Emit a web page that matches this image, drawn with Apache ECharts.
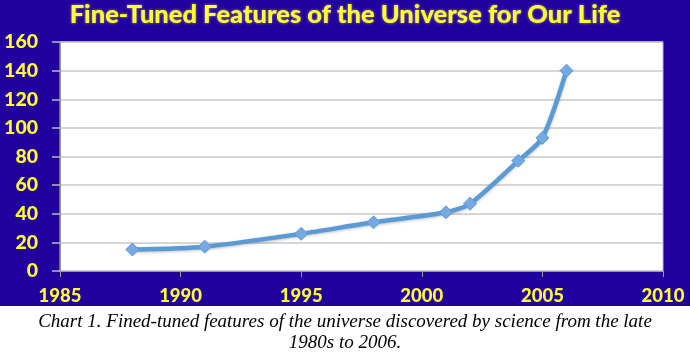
<!DOCTYPE html>
<html>
<head>
<meta charset="utf-8">
<script src="https://cdn.jsdelivr.net/npm/echarts@6/dist/echarts.min.js"></script>
<style>
html,body{margin:0;padding:0;background:#fff;}
#c{width:690px;height:354px;}
</style>
</head>
<body>
<div id="c"></div>
<script>
const titleText = "Fine-Tuned Features of the Universe for Our Life";
const captionLines = ["Chart 1. Fined-tuned features of the universe discovered by science from the late", "1980s to 2006."];
const years = [1988, 1991, 1995, 1998, 2001, 2002, 2004, 2005, 2006];
const features = [15, 17, 26, 34, 41, 47, 77, 93, 140];
const xTicks = [1985, 1990, 1995, 2000, 2005, 2010];
const yTicks = [0, 20, 40, 60, 80, 100, 120, 140, 160];

const navy = "#22009E";
const yellow = "#FFFF33";
const chart = echarts.init(document.getElementById('c'));
chart.setOption({
  backgroundColor: '#ffffff',
  animation: false,
  graphic: [
    { type: 'rect', z: -10, shape: { x: 0, y: 0, width: 690, height: 306 }, style: { fill: navy } },
    { type: 'text', left: 'center', top: 311, style: { text: captionLines.join('\n'), fill: '#000', font: 'italic 19px "Liberation Serif"', textAlign: 'center', lineHeight: 21 } }
  ],
  title: {
    text: titleText, left: 'center', top: -3,
    textStyle: { color: yellow, fontFamily: 'Lato', fontWeight: 900, fontSize: 25.5, textShadowColor: 'rgba(255,255,120,0.6)', textShadowBlur: 3 }
  },
  grid: { left: 60, right: 27, top: 42, bottom: 83, show: true, backgroundColor: '#ffffff', borderColor: '#bbbbbb', borderWidth: 1 },
  xAxis: {
    type: 'value', min: xTicks[0], max: xTicks[xTicks.length - 1], interval: 5,
    axisLine: { show: true, lineStyle: { color: '#999', width: 1 } },
    axisTick: { show: true, length: 6, lineStyle: { color: '#999' } },
    splitLine: { show: false },
    axisLabel: { color: yellow, fontFamily: 'Lato', fontWeight: 900, fontSize: 18.5, margin: 16, formatter: v => String(v) }
  },
  yAxis: {
    type: 'value', min: yTicks[0], max: yTicks[yTicks.length - 1], interval: 20,
    axisLine: { show: true, lineStyle: { color: '#999', width: 1 } },
    axisTick: { show: true, length: 8, lineStyle: { color: '#bbb', width: 1.5 } },
    splitLine: { show: true, lineStyle: { color: '#c8c8c8', width: 1.5 } },
    axisLabel: { color: yellow, fontFamily: 'Lato', fontWeight: 900, fontSize: 19.5, margin: 22 }
  },
  series: [{
    type: 'line',
    data: years.map((y, i) => [y, features[i]]),
    smooth: 0.25,
    symbol: 'diamond', symbolSize: 13,
    lineStyle: { color: '#5B9BD5', width: 4.5, shadowColor: 'rgba(0,0,0,0.25)', shadowBlur: 3, shadowOffsetY: 1 },
    itemStyle: { color: '#76A9E3', borderColor: '#5B9BD5', borderWidth: 1 }
  }]
});
</script>
</body>
</html>
